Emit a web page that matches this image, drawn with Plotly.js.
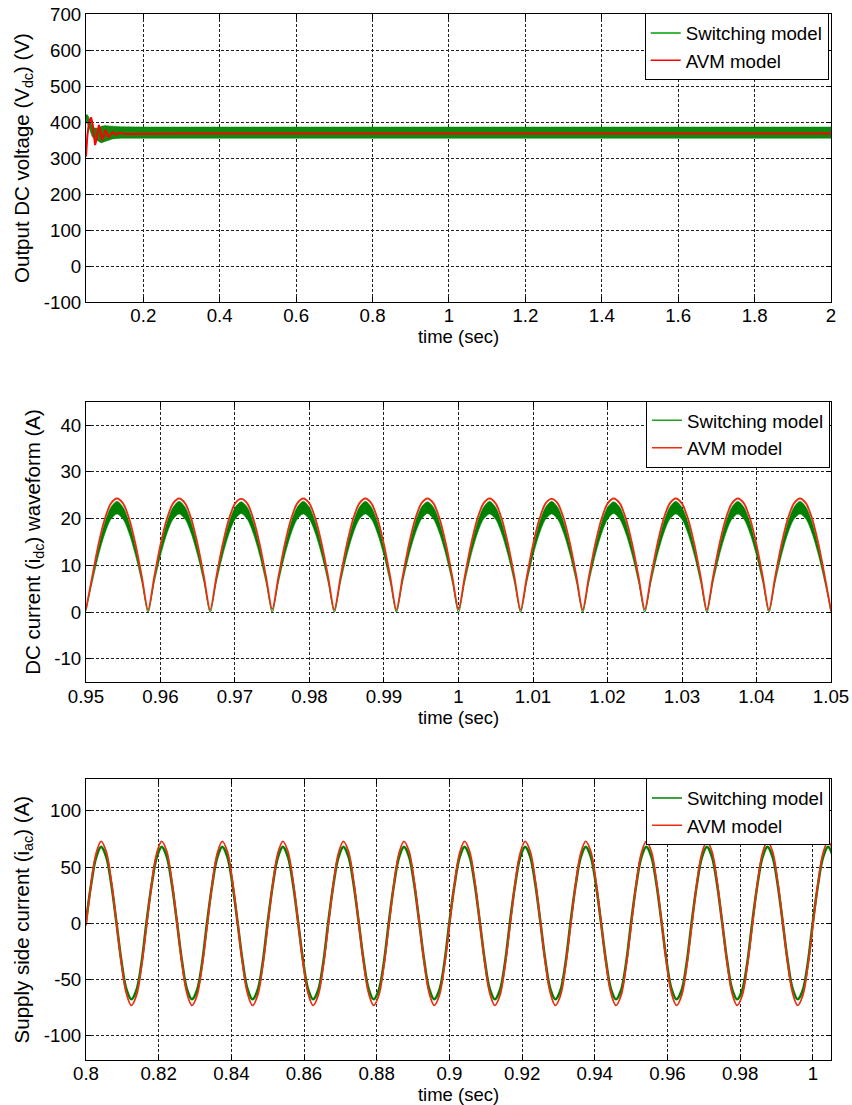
<!DOCTYPE html>
<html>
<head>
<meta charset="utf-8">
<script src="https://cdn.plot.ly/plotly-3.0.1.min.js"></script>
<style>html,body{margin:0;padding:0;background:#fff}#chart{width:852px;height:1105px}</style>
</head>
<body>
<div id="chart"></div>
<script>
// ---------- Panel 1: Output DC voltage ----------
const vdcAvmT = [0.050, 0.0535, 0.058, 0.0636, 0.068, 0.0715, 0.074, 0.078, 0.0837, 0.088, 0.0923, 0.096, 0.1009, 0.105, 0.1097, 0.115, 0.120, 0.125, 0.129, 0.134, 0.139, 0.145, 0.16, 0.3, 0.6, 1.0, 1.5, 2.0];
const vdcAvmV = [304, 360, 400, 413, 390, 350, 336, 355, 392, 375, 350, 360, 378, 368, 357, 366, 372, 368, 364, 368, 370, 368, 367, 368, 368, 368, 368, 368];
const vdcSwT  = [0.05, 0.054, 0.058, 0.062, 0.066, 0.07, 0.08, 0.09, 0.1, 0.11, 0.12, 0.14, 0.2, 0.5, 1.0, 1.5, 2.0];
const vdcSwHi = [420, 420, 412, 400, 390, 384, 383, 388, 390, 389, 388, 387, 386, 386, 386, 386, 386];
const vdcSwLo = [398, 396, 385, 370, 360, 355, 348, 342, 346, 350, 353, 355, 355, 355, 355, 355, 355];
const vdcTickVals = [0.2, 0.4, 0.6, 0.8, 1, 1.2, 1.4, 1.6, 1.8, 2];
const vdcTickText = ["0.2", "0.4", "0.6", "0.8", "1", "1.2", "1.4", "1.6", "1.8", "2"];
const vdcYTickVals = [-100, 0, 100, 200, 300, 400, 500, 600, 700];
const vdcYTickText = ["-100", "0", "100", "200", "300", "400", "500", "600", "700"];

// ---------- Panel 2: DC current (sampled every 1/1200 s from 0.95 s) ----------
const idcT0 = 0.95, idcDt = 1 / 1200;
const idcAvm = [
  0.6, 7.6, 14.4, 19.8, 23.2, 24.3, 23.2, 19.8, 14.4, 7.6,
  0.5, 7.6, 14.4, 19.8, 23.2, 24.3, 23.2, 19.8, 14.4, 7.6,
  0.5, 7.6, 14.4, 19.8, 23.2, 24.2, 23.2, 19.8, 14.4, 7.6,
  0.6, 7.6, 14.4, 19.8, 23.2, 24.3, 23.2, 19.8, 14.4, 7.6,
  0.5, 7.6, 14.4, 19.8, 23.2, 24.3, 23.2, 19.8, 14.4, 7.6,
  0.5, 7.6, 14.4, 19.8, 23.2, 24.3, 23.2, 19.8, 14.4, 7.6,
  0.6, 7.6, 14.4, 19.8, 23.2, 24.3, 23.2, 19.8, 14.4, 7.6,
  0.5, 7.6, 14.4, 19.8, 23.2, 24.2, 23.2, 19.8, 14.4, 7.6,
  0.5, 7.6, 14.4, 19.8, 23.2, 24.3, 23.2, 19.8, 14.4, 7.6,
  0.6, 7.6, 14.4, 19.8, 23.2, 24.3, 23.2, 19.8, 14.4, 7.6,
  0.5, 7.6, 14.4, 19.8, 23.2, 24.3, 23.2, 19.8, 14.4, 7.6,
  0.5, 7.6, 14.4, 19.8, 23.2, 24.3, 23.2, 19.8, 14.4, 7.6,
  0.3];
const idcSwHi = [
  0.3, 7.2, 13.8, 19.0, 22.4, 23.7, 22.4, 19.0, 13.8, 7.2,
  0.0, 7.2, 13.8, 19.0, 22.4, 23.7, 22.4, 19.0, 13.8, 7.2,
  0.0, 7.2, 13.8, 19.0, 22.4, 23.6, 22.4, 19.0, 13.8, 7.2,
  0.0, 7.2, 13.8, 19.0, 22.4, 23.7, 22.4, 19.0, 13.8, 7.2,
  0.0, 7.2, 13.8, 19.0, 22.4, 23.7, 22.4, 19.0, 13.8, 7.2,
  0.0, 7.2, 13.8, 19.0, 22.4, 23.6, 22.4, 19.0, 13.8, 7.2,
  0.0, 7.2, 13.8, 19.0, 22.4, 23.7, 22.4, 19.0, 13.8, 7.2,
  0.0, 7.2, 13.8, 19.0, 22.4, 23.7, 22.4, 19.0, 13.8, 7.2,
  0.0, 7.2, 13.8, 19.0, 22.4, 23.6, 22.4, 19.0, 13.8, 7.2,
  0.0, 7.2, 13.8, 19.0, 22.4, 23.7, 22.4, 19.0, 13.8, 7.2,
  0.0, 7.2, 13.8, 19.0, 22.4, 23.7, 22.4, 19.0, 13.8, 7.2,
  0.0, 7.2, 13.8, 19.0, 22.4, 23.7, 22.4, 19.0, 13.8, 7.2,
  0.0];
const idcSwLo = [
  0.3, 6.3, 12.0, 16.6, 19.8, 21.0, 19.8, 16.6, 12.0, 6.3,
  0.0, 6.3, 12.0, 16.6, 19.8, 21.0, 19.8, 16.6, 12.0, 6.3,
  0.0, 6.3, 12.0, 16.6, 19.8, 21.1, 19.8, 16.6, 12.0, 6.3,
  0.0, 6.3, 12.0, 16.6, 19.8, 21.0, 19.8, 16.6, 12.0, 6.3,
  0.0, 6.3, 12.0, 16.6, 19.8, 21.0, 19.8, 16.6, 12.0, 6.3,
  0.0, 6.3, 12.0, 16.6, 19.8, 21.1, 19.8, 16.6, 12.0, 6.3,
  0.0, 6.3, 12.0, 16.6, 19.8, 21.0, 19.8, 16.6, 12.0, 6.3,
  0.0, 6.3, 12.0, 16.6, 19.8, 21.0, 19.8, 16.6, 12.0, 6.3,
  0.0, 6.3, 12.0, 16.6, 19.8, 21.1, 19.8, 16.6, 12.0, 6.3,
  0.0, 6.3, 12.0, 16.6, 19.8, 21.0, 19.8, 16.6, 12.0, 6.3,
  0.0, 6.3, 12.0, 16.6, 19.8, 21.0, 19.8, 16.6, 12.0, 6.3,
  0.0, 6.3, 12.0, 16.6, 19.8, 21.0, 19.8, 16.6, 12.0, 6.3,
  0.0];
const idcTickVals = [0.95, 0.96, 0.97, 0.98, 0.99, 1, 1.01, 1.02, 1.03, 1.04, 1.05];
const idcTickText = ["0.95", "0.96", "0.97", "0.98", "0.99", "1", "1.01", "1.02", "1.03", "1.04", "1.05"];
const idcYTickVals = [-10, 0, 10, 20, 30, 40];
const idcYTickText = ["-10", "0", "10", "20", "30", "40"];

// ---------- Panel 3: Supply side current (sampled every 1/720 s from 0.8 s) ----------
const iacT0 = 0.8, iacDt = 1 / 720;
const iacAvm = [
  -2, 34.7, 62.2, 73, 64.2, 38.2, 2, -34.7, -62.2, -73, -64.2, -38.2,
  -2, 34.7, 62.2, 73, 64.2, 38.2, 2, -34.7, -62.2, -73, -64.2, -38.2,
  -2, 34.7, 62.2, 73, 64.2, 38.2, 2, -34.7, -62.2, -73, -64.2, -38.2,
  -2, 34.7, 62.2, 73, 64.2, 38.2, 2, -34.7, -62.2, -73, -64.2, -38.2,
  -2, 34.7, 62.2, 73, 64.2, 38.2, 2, -34.7, -62.2, -73, -64.2, -38.2,
  -2, 34.7, 62.2, 73, 64.2, 38.2, 2, -34.7, -62.2, -73, -64.2, -38.2,
  -2, 34.7, 62.2, 73, 64.2, 38.2, 2, -34.7, -62.2, -73, -64.2, -38.2,
  -2, 34.7, 62.2, 73, 64.2, 38.2, 2, -34.7, -62.2, -73, -64.2, -38.2,
  -2, 34.7, 62.2, 73, 64.2, 38.2, 2, -34.7, -62.2, -73, -64.2, -38.2,
  -2, 34.7, 62.2, 73, 64.2, 38.2, 2, -34.7, -62.2, -73, -64.2, -38.2,
  -2, 34.7, 62.2, 73, 64.2, 38.2, 2, -34.7, -62.2, -73, -64.2, -38.2,
  -2, 34.7, 62.2, 73, 64.2, 38.2, 2, -34.7, -62.2, -73, -64.2, -38.2,
  -2, 34.7, 62.2, 73, 64.2];
const iacSw = [
  1, 34, 58.5, 68, 59.5, 35.5, 2, -33, -58.5, -67.5, -59.5, -35.5,
  1, 34, 58.5, 68, 59.5, 35.5, 2, -33, -58.5, -67.5, -59.5, -35.5,
  1, 34, 58.5, 68, 59.5, 35.5, 2, -33, -58.5, -67.5, -59.5, -35.5,
  1, 34, 58.5, 68, 59.5, 35.5, 2, -33, -58.5, -67.5, -59.5, -35.5,
  1, 34, 58.5, 68, 59.5, 35.5, 2, -33, -58.5, -67.5, -59.5, -35.5,
  1, 34, 58.5, 68, 59.5, 35.5, 2, -33, -58.5, -67.5, -59.5, -35.5,
  1, 34, 58.5, 68, 59.5, 35.5, 2, -33, -58.5, -67.5, -59.5, -35.5,
  1, 34, 58.5, 68, 59.5, 35.5, 2, -33, -58.5, -67.5, -59.5, -35.5,
  1, 34, 58.5, 68, 59.5, 35.5, 2, -33, -58.5, -67.5, -59.5, -35.5,
  1, 34, 58.5, 68, 59.5, 35.5, 2, -33, -58.5, -67.5, -59.5, -35.5,
  1, 34, 58.5, 68, 59.5, 35.5, 2, -33, -58.5, -67.5, -59.5, -35.5,
  1, 34, 58.5, 68, 59.5, 35.5, 2, -33, -58.5, -67.5, -59.5, -35.5,
  1, 34, 58.5, 68, 59.5];
const iacTickVals = [0.8, 0.82, 0.84, 0.86, 0.88, 0.9, 0.92, 0.94, 0.96, 0.98, 1];
const iacTickText = ["0.8", "0.82", "0.84", "0.86", "0.88", "0.9", "0.92", "0.94", "0.96", "0.98", "1"];
const iacYTickVals = [-100, -50, 0, 50, 100];
const iacYTickText = ["-100", "-50", "0", "50", "100"];

const seriesNames = ["Switching model", "AVM model"];

// ---------- styles ----------
const FONT = "Liberation Sans, Arial, Helvetica, sans-serif";
const TICK = 18.7, XTITLE = 18.5, YTITLE = 20.5;
const GREEN = "#008000";
const RED1 = "#ff0000";
const RED2 = "#ec2e10";

function axisStyle(extra) {
  return Object.assign({
    showline: true, linecolor: "#000", linewidth: 1, mirror: "ticks",
    ticks: "inside", ticklen: 5, tickcolor: "#000", tickwidth: 1,
    showgrid: true, gridcolor: "#222", gridwidth: 1, griddash: "3px,2px",
    zeroline: false, tickfont: {family: FONT, size: TICK, color: "#000"},
    tickmode: "array", fixedrange: true
  }, extra);
}

const traces = [
  // panel 1
  {x: vdcSwT, y: vdcSwHi, xaxis: "x", yaxis: "y", mode: "lines", line: {color: GREEN, width: 0.5}, showlegend: false, hoverinfo: "skip"},
  {x: vdcSwT, y: vdcSwLo, xaxis: "x", yaxis: "y", mode: "lines", line: {color: GREEN, width: 0.5}, fill: "tonexty", fillcolor: "#108a10", showlegend: false, hoverinfo: "skip"},
  {x: vdcAvmT, y: vdcAvmV, xaxis: "x", yaxis: "y", mode: "lines", line: {color: RED1, width: 2}, showlegend: false},
  {x: [null], y: [null], xaxis: "x", yaxis: "y", mode: "lines", line: {color: "#00a000", width: 1.5}, name: seriesNames[0], legend: "legend"},
  {x: [null], y: [null], xaxis: "x", yaxis: "y", mode: "lines", line: {color: RED1, width: 1.5}, name: seriesNames[1], legend: "legend"},
  // panel 2
  {x0: idcT0, dx: idcDt, y: idcSwHi, xaxis: "x2", yaxis: "y2", mode: "lines", line: {color: GREEN, width: 0.5, shape: "spline", smoothing: 0.8}, showlegend: false, hoverinfo: "skip", legend: "legend2"},
  {x0: idcT0, dx: idcDt, y: idcSwLo, xaxis: "x2", yaxis: "y2", mode: "lines", line: {color: GREEN, width: 0.5, shape: "spline", smoothing: 0.8}, fill: "tonexty", fillcolor: GREEN, showlegend: false, hoverinfo: "skip", legend: "legend2"},
  {x0: idcT0, dx: idcDt, y: idcAvm, xaxis: "x2", yaxis: "y2", mode: "lines", line: {color: RED2, width: 1.8, shape: "spline", smoothing: 0.8}, showlegend: false, legend: "legend2"},
  {x: [null], y: [null], xaxis: "x2", yaxis: "y2", mode: "lines", line: {color: "#22a022", width: 1.5}, name: seriesNames[0], legend: "legend2"},
  {x: [null], y: [null], xaxis: "x2", yaxis: "y2", mode: "lines", line: {color: RED2, width: 1.5}, name: seriesNames[1], legend: "legend2"},
  // panel 3
  {x0: iacT0, dx: iacDt, y: iacSw, xaxis: "x3", yaxis: "y3", mode: "lines", line: {color: GREEN, width: 2.6, shape: "spline", smoothing: 1}, showlegend: false, legend: "legend3"},
  {x0: iacT0, dx: iacDt, y: iacAvm, xaxis: "x3", yaxis: "y3", mode: "lines", line: {color: RED2, width: 1.8, shape: "spline", smoothing: 1}, showlegend: false, legend: "legend3"},
  {x: [null], y: [null], xaxis: "x3", yaxis: "y3", mode: "lines", line: {color: GREEN, width: 1.5}, name: seriesNames[0], legend: "legend3"},
  {x: [null], y: [null], xaxis: "x3", yaxis: "y3", mode: "lines", line: {color: RED2, width: 1.5}, name: seriesNames[1], legend: "legend3"}
];

const XDOM = [0.1009, 0.9754];
const legendStyle = {
  xanchor: "right", yanchor: "top", bgcolor: "#fff", bordercolor: "#000", borderwidth: 1,
  font: {family: FONT, size: TICK, color: "#000"}, tracegroupgap: 0, itemwidth: 30, traceorder: "normal"
};
const xTitle = {text: "time (sec)", font: {family: FONT, size: XTITLE}, standoff: 0};

const layout = {
  width: 852, height: 1105,
  margin: {l: 0, r: 0, t: 0, b: 0},
  paper_bgcolor: "#fff", plot_bgcolor: "#fff",
  font: {family: FONT, size: TICK, color: "#000"},
  xaxis: axisStyle({domain: XDOM, anchor: "y", range: [0.05, 2], tickvals: vdcTickVals, ticktext: vdcTickText, ticklabelstandoff: -3, title: xTitle}),
  yaxis: axisStyle({domain: [0.7267, 0.9873], anchor: "x", range: [-100, 700],
    tickvals: vdcYTickVals, ticktext: vdcYTickText,
    title: {text: "Output DC voltage (V<sub>dc</sub>) (V)", font: {family: FONT, size: YTITLE}, standoff: 8}}),
  xaxis2: axisStyle({domain: XDOM, anchor: "y2", range: [0.95, 1.05], tickvals: idcTickVals, ticktext: idcTickText, ticklabelstandoff: -3, title: xTitle}),
  yaxis2: axisStyle({domain: [0.3825, 0.6365], anchor: "x2", range: [-15, 45],
    tickvals: idcYTickVals, ticktext: idcYTickText,
    title: {text: "DC current (i<sub>dc</sub>) waveform (A)", font: {family: FONT, size: YTITLE}, standoff: 8}}),
  xaxis3: axisStyle({domain: XDOM, anchor: "y3", range: [0.8, 1.005], tickvals: iacTickVals, ticktext: iacTickText, ticklabelstandoff: -3, title: xTitle}),
  yaxis3: axisStyle({domain: [0.0407, 0.2948], anchor: "x3", range: [-121.6, 128.2],
    tickvals: iacYTickVals, ticktext: iacYTickText,
    title: {text: "Supply side current (i<sub>ac</sub>) (A)", font: {family: FONT, size: YTITLE}, standoff: 8}}),
  legend: Object.assign({x: 0.9727, y: 0.988}, legendStyle),
  legend2: Object.assign({x: 0.9742, y: 0.6374}, legendStyle),
  legend3: Object.assign({x: 0.9742, y: 0.2957}, legendStyle),
  showlegend: true
};

Plotly.newPlot("chart", traces, layout, {displayModeBar: false, staticPlot: true});
</script>
</body>
</html>
